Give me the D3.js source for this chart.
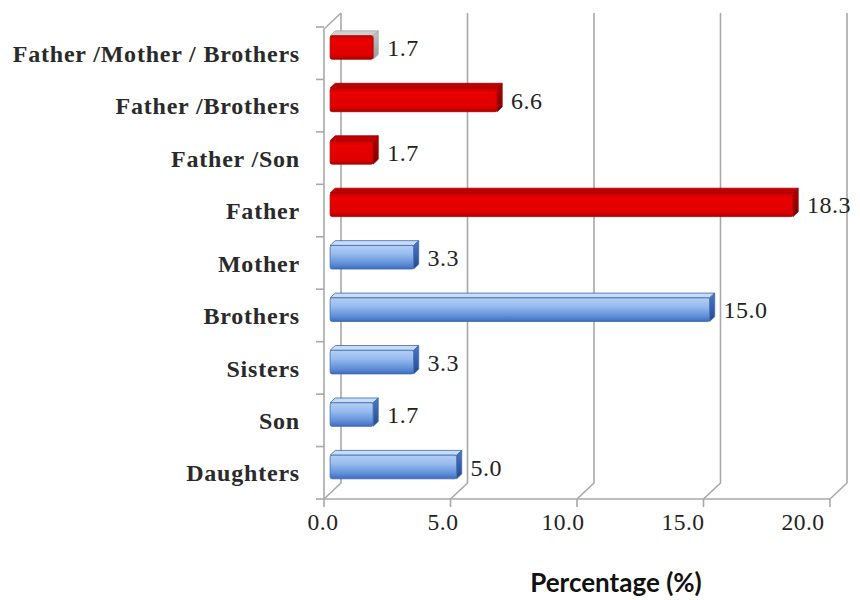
<!DOCTYPE html>
<html>
<head>
<meta charset="utf-8">
<script src="https://cdn.jsdelivr.net/npm/d3@7"></script>
<style>
  html, body { margin: 0; padding: 0; background: #fff; }
  svg { display: block; }
</style>
</head>
<body>
<svg id="chart" width="860" height="600"></svg>
<script>
// Relatives, top to bottom
const categories = [
  "Father /Mother / Brothers",
  "Father /Brothers",
  "Father /Son",
  "Father",
  "Mother",
  "Brothers",
  "Sisters",
  "Son",
  "Daughters"
];
// Percentage for each relative
const values = [1.7, 6.6, 1.7, 18.3, 3.3, 15.0, 3.3, 1.7, 5.0];
// Colour group of each bar (paternal combinations vs. single relatives)
const groups = ["redGrey", "red", "red", "red", "blue", "blue", "blue", "blue", "blue"];
const xTicks = [0, 5, 10, 15, 20];
const xTitle = "Percentage (%)";

const svg = d3.select("#chart");

// 3D box: front plane range and depth vector of the back wall
const depth = { dx: 17, dy: -16 };
const x = d3.scaleLinear().domain([0, 20]).range([324, 830]);
const y = d3.scaleBand().domain(categories).range([27, 499]);
const tickLabelX = d3.scaleLinear().domain([0, 20]).range([323, 803]);

const floorY = y.range()[1];
const topY = y.range()[0];
const wallTop = topY + depth.dy + 2;

const serif = "'Liberation Serif', 'DejaVu Serif', serif";

// gradients for bar faces
const defs = svg.append("defs");
function grad(id, stops) {
  const g = defs.append("linearGradient").attr("id", id)
    .attr("x1", 0).attr("y1", 0).attr("x2", 0).attr("y2", 1);
  stops.forEach(([o, c]) => g.append("stop").attr("offset", o).attr("stop-color", c));
}
grad("blueFront", [[0, "#b3cff4"], [0.35, "#98bcee"], [0.75, "#6392da"], [1, "#3f6cbe"]]);
grad("blueEnd", [[0, "#4a78c6"], [1, "#24498c"]]);
grad("redFront", [[0, "#c80000"], [0.2, "#ea0000"], [0.8, "#e00000"], [1, "#b00000"]]);
grad("redEnd", [[0, "#b00000"], [1, "#7a0000"]]);
grad("greyEnd", [[0, "#c4c4c4"], [1, "#9a9a9a"]]);

const faces = {
  blue: { front: "url(#blueFront)", top: "#c8dcf6", end: "url(#blueEnd)", stroke: "#3e69b3" },
  red: { front: "url(#redFront)", top: "#c00000", end: "url(#redEnd)", stroke: "#9a0000" },
  redGrey: { front: "url(#redFront)", top: "#cfcfcf", end: "url(#greyEnd)", stroke: "#a8a8a8" }
};

const grid = svg.append("g").attr("fill", "none").attr("stroke", "#a9a9a9").attr("stroke-width", 1.6);

// back wall gridlines with their floor diagonals and ticks
grid.selectAll("path.gl").data(xTicks).join("path").attr("class", "gl")
  .attr("d", t => {
    const bx = x(t) + depth.dx;
    return `M${bx},${wallTop} L${bx},${floorY + depth.dy} L${x(t)},${floorY} L${x(t)},${floorY + 8}`;
  });

// front axis line
grid.append("line")
  .attr("x1", x(0)).attr("x2", x(20)).attr("y1", floorY).attr("y2", floorY);

// left wall edge
grid.append("path")
  .attr("d", `M${x(0) + depth.dx},${wallTop} L${x(0)},${topY + 2} L${x(0)},${floorY}`);

// category ticks on the left wall
const bounds = categories.map(c => y(c)).concat([floorY]);
grid.selectAll("line.yt").data(bounds).join("line").attr("class", "yt")
  .attr("x1", x(0) - 8).attr("x2", x(0)).attr("y1", d => d).attr("y2", d => d);

// bars
const fOff = 0.36, bOff = 0.66;
const barH = y.bandwidth() * 0.45;
const bars = svg.append("g");
categories.forEach((c, i) => {
  const v = values[i];
  const f = faces[groups[i]];
  const fx = depth.dx * fOff, fy = depth.dy * fOff;
  const ex = depth.dx * (bOff - fOff), ey = depth.dy * (bOff - fOff);
  const x0 = x(0) + fx, x1 = x(v) + fx;
  const yc = y(c) + y.bandwidth() / 2 + fy;
  const y0 = yc - barH / 2, y1 = yc + barH / 2;
  const g = bars.append("g").attr("stroke", f.stroke).attr("stroke-width", 0.8).attr("stroke-linejoin", "round");
  // top face
  g.append("path").attr("fill", f.top)
    .attr("d", `M${x0},${y0} L${x0 + ex},${y0 + ey} L${x1 + ex},${y0 + ey} L${x1},${y0} Z`);
  // end face
  g.append("path").attr("fill", f.end)
    .attr("d", `M${x1},${y0} L${x1 + ex},${y0 + ey} L${x1 + ex},${y1 + ey} L${x1},${y1} Z`);
  // front face
  g.append("rect").attr("fill", f.front).attr("stroke", groups[i] === "blue" ? "#3e69b3" : "#a00000")
    .attr("x", x0).attr("y", y0).attr("width", x1 - x0).attr("height", y1 - y0).attr("rx", 2);
  // value label
  svg.append("text")
    .attr("x", x1 + 14).attr("y", yc)
    .attr("dy", "0.36em")
    .attr("font-family", serif)
    .attr("font-size", 24)
    .attr("letter-spacing", 0.5)
    .attr("fill", "#222")
    .text(d3.format(".1f")(v));
});

// category labels
svg.append("g").selectAll("text").data(categories).join("text")
  .attr("x", 300)
  .attr("y", c => y(c) + y.bandwidth() / 2)
  .attr("dy", "0.36em")
  .attr("text-anchor", "end")
  .attr("font-family", serif)
  .attr("font-weight", "bold")
  .attr("font-size", 24)
  .attr("letter-spacing", 0.8)
  .attr("fill", "#2a2a2a")
  .text(c => c);

// x tick labels
svg.append("g").selectAll("text").data(xTicks).join("text")
  .attr("x", t => tickLabelX(t))
  .attr("y", 530)
  .attr("text-anchor", "middle")
  .attr("font-family", serif)
  .attr("font-size", 23.5)
  .attr("letter-spacing", 0.5)
  .attr("fill", "#222")
  .text(d3.format(".1f"));

// axis title
svg.append("text")
  .attr("x", 616).attr("y", 592)
  .attr("text-anchor", "middle")
  .attr("font-family", "Lato, 'Open Sans', sans-serif")
  .attr("font-weight", "bold")
  .attr("font-size", 26)
  .attr("fill", "#111")
  .text(xTitle);
</script>
</body>
</html>
